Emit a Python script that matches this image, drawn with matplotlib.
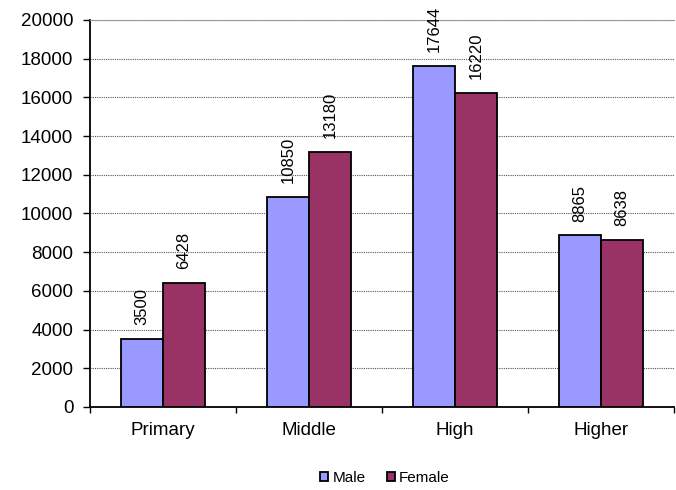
import matplotlib

matplotlib.use("Agg")
import matplotlib.pyplot as plt  # noqa: E402
import numpy as np  # noqa: E402

plt.rcParams["font.family"] = ["Liberation Sans", "DejaVu Sans"]

categories = ["Primary", "Middle", "High", "Higher"]
male = [3500, 10850, 17644, 8865]
female = [6428, 13180, 16220, 8638]
y_ticks = list(range(0, 20001, 2000))

fig = plt.figure(figsize=(6.76, 4.9), dpi=100)
ax = fig.add_axes([0.1331, 0.1694, 0.8639, 0.7898])

x = np.arange(len(categories))
w = 0.2877
b1 = ax.bar(x - w / 2, male, w, color="#9999FF", edgecolor="black", lw=1.3, label="Male", zorder=3)
b2 = ax.bar(x + w / 2, female, w, color="#993366", edgecolor="black", lw=1.3, label="Female", zorder=3)

# value labels, rotated like the Excel original
for bars, vals in ((b1, male), (b2, female)):
    for r, v in zip(bars, vals):
        ax.annotate(f"{v}", (r.get_x() + r.get_width() / 2, v), xytext=(0, 10),
                    textcoords="offset points", rotation=90, ha="center", va="bottom",
                    fontsize=12, zorder=4)

ax.set_xlim(-0.5, len(categories) - 0.5)
ax.set_ylim(0, 20000)
ax.set_yticks(y_ticks)
ax.set_yticklabels([str(t) for t in y_ticks], fontsize=13.5)
ax.set_xticks(x)
ax.set_xticklabels(categories, fontsize=13.5)
ax.tick_params(axis="x", which="major", length=0, pad=11)
ax.set_xticks(np.arange(-0.5, len(categories)), minor=True)
ax.tick_params(axis="x", which="minor", length=4, direction="out", width=1)
ax.tick_params(axis="y", length=5, direction="out", width=1, pad=7)

ax.grid(axis="y", ls=(0, (1, 1)), color="#555555", lw=0.8, zorder=0)
ax.spines["right"].set_visible(False)
ax.spines["top"].set_color("#999999")
ax.spines["left"].set_linewidth(1.3)
ax.spines["bottom"].set_linewidth(1.3)

fig.legend(loc="center", bbox_to_anchor=(0.5695, 0.024), ncol=2, frameon=False,
           fontsize=11, handlelength=0.5, handleheight=0.5, handletextpad=0.3,
           columnspacing=1.4, borderaxespad=0, borderpad=0)

fig.savefig("out.png", dpi=100)
